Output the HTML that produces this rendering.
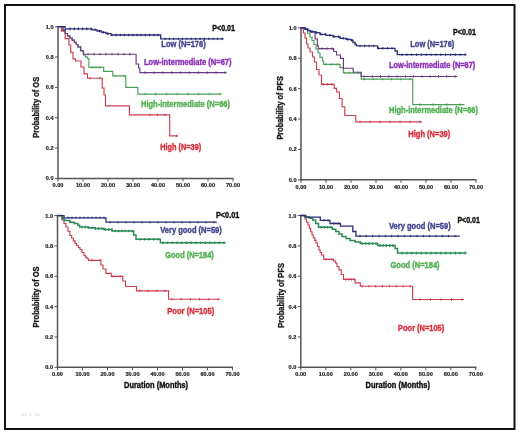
<!DOCTYPE html>
<html><head><meta charset="utf-8"><style>
html,body{margin:0;padding:0;background:#fff;}
body{width:520px;height:435px;overflow:hidden;position:relative;}
svg{position:absolute;left:0;top:0;filter:blur(0.3px);}
.tk{font-family:"Liberation Sans",sans-serif;font-size:5.6px;font-weight:bold;fill:#262626;stroke:#262626;stroke-width:0.2px;}
.lb{font-family:"Liberation Sans",sans-serif;font-weight:bold;}
</style></head><body>
<svg width="520" height="435" viewBox="0 0 520 435">
<rect x="0" y="0" width="520" height="435" fill="#ffffff"/>
<rect x="5" y="5" width="509.5" height="424" fill="none" stroke="#111111" stroke-width="2"/>
<line x1="58.0" y1="26.2" x2="58.0" y2="179.1" stroke="#555555" stroke-width="1.5"/>
<line x1="57.3" y1="178.4" x2="233.5" y2="178.4" stroke="#555555" stroke-width="1.5"/>
<line x1="58.0" y1="178.4" x2="58.0" y2="181.4" stroke="#555555" stroke-width="1"/>
<text x="58.0" y="187.2" class="tk" text-anchor="middle">0.00</text>
<line x1="83.0" y1="178.4" x2="83.0" y2="181.4" stroke="#555555" stroke-width="1"/>
<text x="83.0" y="187.2" class="tk" text-anchor="middle">10.00</text>
<line x1="108.0" y1="178.4" x2="108.0" y2="181.4" stroke="#555555" stroke-width="1"/>
<text x="108.0" y="187.2" class="tk" text-anchor="middle">20.00</text>
<line x1="133.0" y1="178.4" x2="133.0" y2="181.4" stroke="#555555" stroke-width="1"/>
<text x="133.0" y="187.2" class="tk" text-anchor="middle">30.00</text>
<line x1="158.0" y1="178.4" x2="158.0" y2="181.4" stroke="#555555" stroke-width="1"/>
<text x="158.0" y="187.2" class="tk" text-anchor="middle">40.00</text>
<line x1="183.0" y1="178.4" x2="183.0" y2="181.4" stroke="#555555" stroke-width="1"/>
<text x="183.0" y="187.2" class="tk" text-anchor="middle">50.00</text>
<line x1="208.0" y1="178.4" x2="208.0" y2="181.4" stroke="#555555" stroke-width="1"/>
<text x="208.0" y="187.2" class="tk" text-anchor="middle">60.00</text>
<line x1="233.0" y1="178.4" x2="233.0" y2="181.4" stroke="#555555" stroke-width="1"/>
<text x="233.0" y="187.2" class="tk" text-anchor="middle">70.00</text>
<line x1="55.0" y1="178.4" x2="58.0" y2="178.4" stroke="#555555" stroke-width="1"/>
<text x="53.5" y="180.4" class="tk" text-anchor="end">0.0</text>
<line x1="55.0" y1="148.1" x2="58.0" y2="148.1" stroke="#555555" stroke-width="1"/>
<text x="53.5" y="150.1" class="tk" text-anchor="end">0.2</text>
<line x1="55.0" y1="117.7" x2="58.0" y2="117.7" stroke="#555555" stroke-width="1"/>
<text x="53.5" y="119.7" class="tk" text-anchor="end">0.4</text>
<line x1="55.0" y1="87.4" x2="58.0" y2="87.4" stroke="#555555" stroke-width="1"/>
<text x="53.5" y="89.4" class="tk" text-anchor="end">0.6</text>
<line x1="55.0" y1="57.0" x2="58.0" y2="57.0" stroke="#555555" stroke-width="1"/>
<text x="53.5" y="59.0" class="tk" text-anchor="end">0.8</text>
<line x1="55.0" y1="26.7" x2="58.0" y2="26.7" stroke="#555555" stroke-width="1"/>
<text x="53.5" y="28.7" class="tk" text-anchor="end">1.0</text>
<path d="M58,26.6H61.5V31.2H65.2V38.6H68.9V45H70.7V52.3H73V58.8H75.5V61H81V67H84V73.8H87.5V78.2H102.2V88H104V95H105.5V105.9H129.4V114.9H169.7V135.9H177.4" fill="none" stroke="#cc3d50" stroke-width="1.15" stroke-linejoin="miter" stroke-linecap="square" opacity="1.0"/>
<path d="M58,26.6H60.6H62.9V30.1H65.2V33.5H67.5V35.8H69.8V38.0H72.1V40.1H74.4V42.2H76.2V44.5H78.0V46.8H80.5V51.0H83.6V55.0H85.4V56.8H87.3V58.5H88.9V67.3H103.7V71.3H112.8V75.9H125.8V87.4H137.8V94.1H221" fill="none" stroke="#4a9e58" stroke-width="1.15" stroke-linejoin="miter" stroke-linecap="square" opacity="1.0"/>
<path d="M58,26.6H60.6H62.9V30.1H65.2V33.5H67.5V35.8H69.8V38.0H72.1V40.1H74.4V42.2H76.2V44.5H78.0V46.8H80.8V50.5H83.2V54.2H136.1V64H138.6V68H139.8V72.6H226" fill="none" stroke="#6a3a82" stroke-width="1.15" stroke-linejoin="miter" stroke-linecap="square" opacity="1.0"/>
<path d="M58,26.6H65.2V28.9H92V29.8H97V31H101.5V32.3H106V33.6H111V35H160.7V38.9H223" fill="none" stroke="#2c2c78" stroke-width="1.3" stroke-linejoin="miter" stroke-linecap="square" opacity="1.0"/>
<path d="M70.0,27.6V30.2M74.2,27.6V30.2M78.4,27.6V30.2M82.6,27.6V30.2M86.8,27.6V30.2M91.0,27.6V30.2M95.1,28.5V31.1M99.3,29.7V32.3M103.5,31.0V33.6M107.7,32.3V34.9M111.9,33.7V36.3M116.1,33.7V36.3M120.3,33.7V36.3M124.5,33.7V36.3M128.7,33.7V36.3M132.9,33.7V36.3M137.0,33.7V36.3M141.2,33.7V36.3M145.4,33.7V36.3M149.6,33.7V36.3M153.8,33.7V36.3M158.0,33.7V36.3" stroke="#2c2c78" stroke-width="1.2" fill="none"/>
<path d="M165.0,37.7V40.1M169.4,37.7V40.1M173.8,37.7V40.1M178.2,37.7V40.1M182.5,37.7V40.1M186.9,37.7V40.1M191.3,37.7V40.1M195.7,37.7V40.1M200.1,37.7V40.1M204.5,37.7V40.1M208.8,37.7V40.1M213.2,37.7V40.1M217.6,37.7V40.1M222.0,37.7V40.1" stroke="#2c2c78" stroke-width="1.0" fill="none"/>
<path d="M88.0,53.0V55.4M94.0,53.0V55.4M100.0,53.0V55.4M106.0,53.0V55.4M112.0,53.0V55.4M118.0,53.0V55.4M124.0,53.0V55.4M130.0,53.0V55.4" stroke="#6a3a82" stroke-width="1.0" fill="none"/>
<path d="M145.0,71.4V73.8M153.9,71.4V73.8M162.8,71.4V73.8M171.7,71.4V73.8M180.6,71.4V73.8M189.4,71.4V73.8M198.3,71.4V73.8M207.2,71.4V73.8M216.1,71.4V73.8M225.0,71.4V73.8" stroke="#6a3a82" stroke-width="1.0" fill="none"/>
<path d="M92.0,66.1V68.5M96.0,66.1V68.5M100.0,66.1V68.5M115.0,74.7V77.1M124.0,74.7V77.1M145.0,92.9V95.3M155.7,92.9V95.3M166.4,92.9V95.3M177.1,92.9V95.3M187.9,92.9V95.3M198.6,92.9V95.3M209.3,92.9V95.3M220.0,92.9V95.3" stroke="#4a9e58" stroke-width="1.0" fill="none"/>
<path d="M90.0,77.0V79.4M100.0,77.0V79.4M150.0,113.7V116.1M157.5,113.7V116.1M165.0,113.7V116.1M176.5,134.7V137.1" stroke="#cc3d50" stroke-width="1.0" fill="none"/>
<text x="212.3" y="31.1" class="lb" fill="#111111" stroke="#111111" stroke-width="0.38" font-size="8.2" textLength="22.7" lengthAdjust="spacingAndGlyphs">P&lt;0.01</text>
<text x="161.3" y="46.7" class="lb" fill="#45458f" stroke="#45458f" stroke-width="0.38" font-size="8.2" textLength="44.4" lengthAdjust="spacingAndGlyphs">Low (N=176)</text>
<text x="144.0" y="64.7" class="lb" fill="#8a30b8" stroke="#8a30b8" stroke-width="0.38" font-size="8.2" textLength="87.5" lengthAdjust="spacingAndGlyphs">Low-intermediate (N=67)</text>
<text x="141.0" y="106.7" class="lb" fill="#52b052" stroke="#52b052" stroke-width="0.38" font-size="8.2" textLength="89.0" lengthAdjust="spacingAndGlyphs">High-intermediate (N=66)</text>
<text x="160.2" y="150.4" class="lb" fill="#d8303c" stroke="#d8303c" stroke-width="0.38" font-size="8.2" textLength="41.0" lengthAdjust="spacingAndGlyphs">High (N=39)</text>
<text transform="translate(39.2,137.8) rotate(-90)" x="0" y="0" class="lb" fill="#1a1a1a" stroke="#1a1a1a" stroke-width="0.35" font-size="9.5" textLength="61.0" lengthAdjust="spacingAndGlyphs">Probability of OS</text>
<line x1="301.0" y1="27.4" x2="301.0" y2="180.5" stroke="#555555" stroke-width="1.5"/>
<line x1="300.3" y1="179.8" x2="476.5" y2="179.8" stroke="#555555" stroke-width="1.5"/>
<line x1="301.0" y1="179.8" x2="301.0" y2="182.8" stroke="#555555" stroke-width="1"/>
<text x="301.0" y="188.6" class="tk" text-anchor="middle">0.00</text>
<line x1="326.0" y1="179.8" x2="326.0" y2="182.8" stroke="#555555" stroke-width="1"/>
<text x="326.0" y="188.6" class="tk" text-anchor="middle">10.00</text>
<line x1="351.0" y1="179.8" x2="351.0" y2="182.8" stroke="#555555" stroke-width="1"/>
<text x="351.0" y="188.6" class="tk" text-anchor="middle">20.00</text>
<line x1="376.0" y1="179.8" x2="376.0" y2="182.8" stroke="#555555" stroke-width="1"/>
<text x="376.0" y="188.6" class="tk" text-anchor="middle">30.00</text>
<line x1="401.0" y1="179.8" x2="401.0" y2="182.8" stroke="#555555" stroke-width="1"/>
<text x="401.0" y="188.6" class="tk" text-anchor="middle">40.00</text>
<line x1="426.0" y1="179.8" x2="426.0" y2="182.8" stroke="#555555" stroke-width="1"/>
<text x="426.0" y="188.6" class="tk" text-anchor="middle">50.00</text>
<line x1="451.0" y1="179.8" x2="451.0" y2="182.8" stroke="#555555" stroke-width="1"/>
<text x="451.0" y="188.6" class="tk" text-anchor="middle">60.00</text>
<line x1="476.0" y1="179.8" x2="476.0" y2="182.8" stroke="#555555" stroke-width="1"/>
<text x="476.0" y="188.6" class="tk" text-anchor="middle">70.00</text>
<line x1="298.0" y1="179.8" x2="301.0" y2="179.8" stroke="#555555" stroke-width="1"/>
<text x="296.5" y="181.8" class="tk" text-anchor="end">0.0</text>
<line x1="298.0" y1="149.4" x2="301.0" y2="149.4" stroke="#555555" stroke-width="1"/>
<text x="296.5" y="151.4" class="tk" text-anchor="end">0.2</text>
<line x1="298.0" y1="119.0" x2="301.0" y2="119.0" stroke="#555555" stroke-width="1"/>
<text x="296.5" y="121.0" class="tk" text-anchor="end">0.4</text>
<line x1="298.0" y1="88.7" x2="301.0" y2="88.7" stroke="#555555" stroke-width="1"/>
<text x="296.5" y="90.7" class="tk" text-anchor="end">0.6</text>
<line x1="298.0" y1="58.3" x2="301.0" y2="58.3" stroke="#555555" stroke-width="1"/>
<text x="296.5" y="60.3" class="tk" text-anchor="end">0.8</text>
<line x1="298.0" y1="27.9" x2="301.0" y2="27.9" stroke="#555555" stroke-width="1"/>
<text x="296.5" y="29.9" class="tk" text-anchor="end">1.0</text>
<path d="M301,27.9H303.4V33H305V38H306.5V44H308V48H310V52H312.5V57H314.5V62H316.5V69.5H319V75H321.5V84.3H334.2V88.3H336.7V92H339.4V98.5H342.1V106.7H344.8V115.5H355.8V121.9H421.4" fill="none" stroke="#cc3d50" stroke-width="1.15" stroke-linejoin="miter" stroke-linecap="square" opacity="1.0"/>
<path d="M301,27.9H305V29.5H307.5V33.2H310V37H312V40.5H314V44.5H316V49H318V53H320V57.3H322.5V61H323.7V64.4H340V67.6H343.4V72.8H361.2V79.1H412.7V104.6H463.8" fill="none" stroke="#4a9e58" stroke-width="1.15" stroke-linejoin="miter" stroke-linecap="square" opacity="1.0"/>
<path d="M301,27.9H305V29H308V30.5H310.5V32H315.1V39H317.4V45.8H318.5V48.6H333.6V51.5H336.5V55H340.5V58.4H343.4V68.2H353.2V72.2H361.2V76.5H456.7" fill="none" stroke="#6a3a82" stroke-width="1.15" stroke-linejoin="miter" stroke-linecap="square" opacity="1.0"/>
<path d="M301,27.9H305V29H307.5V30.5H310V31.6H315V32.6H320V34.3H326V35.3H333V36.7H340V38.3H346V39.4H351V40.4H353V42.5H355V44.5H356.5V45.9H377.6V48.3H395.1V51H397.3V54.7H465.8" fill="none" stroke="#2c2c78" stroke-width="1.3" stroke-linejoin="miter" stroke-linecap="square" opacity="1.0"/>
<path d="M312.0,30.3V32.9M316.4,31.3V33.9M320.9,33.0V35.6M325.3,33.0V35.6M329.8,34.0V36.6M334.2,35.4V38.0M338.7,35.4V38.0M343.1,37.0V39.6M347.6,38.1V40.7M352.0,39.1V41.7" stroke="#2c2c78" stroke-width="1.2" fill="none"/>
<path d="M360.0,44.7V47.1M364.6,44.7V47.1M369.1,44.7V47.1M373.7,44.7V47.1M378.3,47.1V49.5M382.9,47.1V49.5M387.4,47.1V49.5M392.0,47.1V49.5M402.0,53.5V55.9M406.8,53.5V55.9M411.7,53.5V55.9M416.5,53.5V55.9M421.4,53.5V55.9M426.2,53.5V55.9M431.1,53.5V55.9M435.9,53.5V55.9M440.8,53.5V55.9M445.6,53.5V55.9M450.5,53.5V55.9M455.3,53.5V55.9M460.2,53.5V55.9M465.0,53.5V55.9" stroke="#2c2c78" stroke-width="1.0" fill="none"/>
<path d="M322.0,47.4V49.8M327.0,47.4V49.8M332.0,47.4V49.8M364.0,75.3V77.7M372.3,75.3V77.7M380.5,75.3V77.7M388.8,75.3V77.7M397.1,75.3V77.7M405.4,75.3V77.7M413.6,75.3V77.7M421.9,75.3V77.7M430.2,75.3V77.7M438.5,75.3V77.7M446.7,75.3V77.7M455.0,75.3V77.7" stroke="#6a3a82" stroke-width="1.0" fill="none"/>
<path d="M326.0,63.2V65.6M331.5,63.2V65.6M337.0,63.2V65.6M345.0,71.6V74.0M349.3,71.6V74.0M353.7,71.6V74.0M358.0,71.6V74.0M364.0,77.9V80.3M373.2,77.9V80.3M382.4,77.9V80.3M391.6,77.9V80.3M400.8,77.9V80.3M410.0,77.9V80.3M420.0,103.4V105.8M433.3,103.4V105.8M446.7,103.4V105.8M460.0,103.4V105.8" stroke="#4a9e58" stroke-width="1.0" fill="none"/>
<path d="M323.0,83.1V85.5M327.5,83.1V85.5M332.0,83.1V85.5M360.0,120.7V123.1M370.0,120.7V123.1M380.0,120.7V123.1M390.0,120.7V123.1M400.0,120.7V123.1M410.0,120.7V123.1M420.0,120.7V123.1" stroke="#cc3d50" stroke-width="1.0" fill="none"/>
<text x="452.9" y="35.1" class="lb" fill="#111111" stroke="#111111" stroke-width="0.38" font-size="8.2" textLength="23.0" lengthAdjust="spacingAndGlyphs">P&lt;0.01</text>
<text x="410.3" y="46.7" class="lb" fill="#45458f" stroke="#45458f" stroke-width="0.38" font-size="8.2" textLength="44.0" lengthAdjust="spacingAndGlyphs">Low (N=176)</text>
<text x="389.0" y="68.3" class="lb" fill="#8a30b8" stroke="#8a30b8" stroke-width="0.38" font-size="8.2" textLength="86.3" lengthAdjust="spacingAndGlyphs">Low-intermediate (N=67)</text>
<text x="389.0" y="113.1" class="lb" fill="#52b052" stroke="#52b052" stroke-width="0.38" font-size="8.2" textLength="89.0" lengthAdjust="spacingAndGlyphs">High-intermediate (N=66)</text>
<text x="408.3" y="136.5" class="lb" fill="#d8303c" stroke="#d8303c" stroke-width="0.38" font-size="8.2" textLength="42.0" lengthAdjust="spacingAndGlyphs">High (N=39)</text>
<text transform="translate(283.2,139.6) rotate(-90)" x="0" y="0" class="lb" fill="#1a1a1a" stroke="#1a1a1a" stroke-width="0.35" font-size="9.5" textLength="63.5" lengthAdjust="spacingAndGlyphs">Probability of PFS</text>
<line x1="57.5" y1="215.1" x2="57.5" y2="368.0" stroke="#555555" stroke-width="1.5"/>
<line x1="56.8" y1="367.3" x2="233.0" y2="367.3" stroke="#555555" stroke-width="1.5"/>
<line x1="57.5" y1="367.3" x2="57.5" y2="370.3" stroke="#555555" stroke-width="1"/>
<text x="57.5" y="376.1" class="tk" text-anchor="middle">0.00</text>
<line x1="82.5" y1="367.3" x2="82.5" y2="370.3" stroke="#555555" stroke-width="1"/>
<text x="82.5" y="376.1" class="tk" text-anchor="middle">10.00</text>
<line x1="107.5" y1="367.3" x2="107.5" y2="370.3" stroke="#555555" stroke-width="1"/>
<text x="107.5" y="376.1" class="tk" text-anchor="middle">20.00</text>
<line x1="132.5" y1="367.3" x2="132.5" y2="370.3" stroke="#555555" stroke-width="1"/>
<text x="132.5" y="376.1" class="tk" text-anchor="middle">30.00</text>
<line x1="157.5" y1="367.3" x2="157.5" y2="370.3" stroke="#555555" stroke-width="1"/>
<text x="157.5" y="376.1" class="tk" text-anchor="middle">40.00</text>
<line x1="182.5" y1="367.3" x2="182.5" y2="370.3" stroke="#555555" stroke-width="1"/>
<text x="182.5" y="376.1" class="tk" text-anchor="middle">50.00</text>
<line x1="207.5" y1="367.3" x2="207.5" y2="370.3" stroke="#555555" stroke-width="1"/>
<text x="207.5" y="376.1" class="tk" text-anchor="middle">60.00</text>
<line x1="232.5" y1="367.3" x2="232.5" y2="370.3" stroke="#555555" stroke-width="1"/>
<text x="232.5" y="376.1" class="tk" text-anchor="middle">70.00</text>
<line x1="54.5" y1="367.3" x2="57.5" y2="367.3" stroke="#555555" stroke-width="1"/>
<text x="53.0" y="369.3" class="tk" text-anchor="end">0.0</text>
<line x1="54.5" y1="337.0" x2="57.5" y2="337.0" stroke="#555555" stroke-width="1"/>
<text x="53.0" y="339.0" class="tk" text-anchor="end">0.2</text>
<line x1="54.5" y1="306.6" x2="57.5" y2="306.6" stroke="#555555" stroke-width="1"/>
<text x="53.0" y="308.6" class="tk" text-anchor="end">0.4</text>
<line x1="54.5" y1="276.3" x2="57.5" y2="276.3" stroke="#555555" stroke-width="1"/>
<text x="53.0" y="278.3" class="tk" text-anchor="end">0.6</text>
<line x1="54.5" y1="245.9" x2="57.5" y2="245.9" stroke="#555555" stroke-width="1"/>
<text x="53.0" y="247.9" class="tk" text-anchor="end">0.8</text>
<line x1="54.5" y1="215.6" x2="57.5" y2="215.6" stroke="#555555" stroke-width="1"/>
<text x="53.0" y="217.6" class="tk" text-anchor="end">1.0</text>
<path d="M57.5,215.6H60H62.0V220.0H64.0V223.5H66.0V227.0H68.0V231.2H70.0V235.5H71.7V238.2H73.3V240.8H75.0V243.5H76.7V245.5H78.3V247.5H80.0V249.5H82.0V252.5H84.0V255.5H85.5V257.1H87.0V258.7H88.5V260.3H100.9V265H103V269H106V273.4H111.2V276.3H122.8V281H125.5V286.5H136.5V290.8H168.6V299.2H219.5" fill="none" stroke="#cc3d50" stroke-width="1.15" stroke-linejoin="miter" stroke-linecap="square" opacity="1.0"/>
<path d="M57.5,215.6H61.7V217.5H63V219.5H64.6V220.6H69.8V222.3H74.4V223.5H77.8V225.2H79.6V227H88V227.8H95V228.6H104V229.6H112V231H133.7V235H136V239.3H160.4V242.7H224.9" fill="none" stroke="#2a8a55" stroke-width="1.5" stroke-linejoin="miter" stroke-linecap="square" opacity="1.0"/>
<path d="M57.5,215.6H64V217.8H106V222.2H216.2" fill="none" stroke="#2c2c78" stroke-width="1.3" stroke-linejoin="miter" stroke-linecap="square" opacity="1.0"/>
<path d="M68.0,216.6V219.0M72.0,216.6V219.0M76.0,216.6V219.0M80.0,216.6V219.0M84.0,216.6V219.0M88.0,216.6V219.0M92.0,216.6V219.0M96.0,216.6V219.0M100.0,216.6V219.0M104.0,216.6V219.0M110.0,221.0V223.4M118.0,221.0V223.4M126.0,221.0V223.4M134.0,221.0V223.4M142.0,221.0V223.4M150.0,221.0V223.4M158.0,221.0V223.4M166.0,221.0V223.4M174.0,221.0V223.4M182.0,221.0V223.4M190.0,221.0V223.4M198.0,221.0V223.4M206.0,221.0V223.4M214.0,221.0V223.4" stroke="#2c2c78" stroke-width="1.0" fill="none"/>
<path d="M82.0,225.7V228.3M85.3,225.7V228.3M88.7,226.5V229.1M92.0,226.5V229.1M95.3,227.3V229.9M98.7,227.3V229.9M102.0,227.3V229.9M105.3,228.3V230.9M108.7,228.3V230.9M112.0,228.3V230.9M115.3,229.7V232.3M118.7,229.7V232.3M122.0,229.7V232.3M125.3,229.7V232.3M128.7,229.7V232.3M132.0,229.7V232.3M140.0,238.0V240.6M144.5,238.0V240.6M149.0,238.0V240.6M153.5,238.0V240.6M158.0,238.0V240.6M163.0,241.4V244.0M167.7,241.4V244.0M172.4,241.4V244.0M177.1,241.4V244.0M181.8,241.4V244.0M186.5,241.4V244.0M191.2,241.4V244.0M195.8,241.4V244.0M200.5,241.4V244.0M205.2,241.4V244.0M209.9,241.4V244.0M214.6,241.4V244.0M219.3,241.4V244.0M224.0,241.4V244.0" stroke="#2a8a55" stroke-width="1.2" fill="none"/>
<path d="M92.0,259.1V261.5M100.0,259.1V261.5M113.0,275.1V277.5M120.0,275.1V277.5M140.0,289.6V292.0M148.3,289.6V292.0M156.7,289.6V292.0M165.0,289.6V292.0M172.0,298.0V300.4M181.2,298.0V300.4M190.4,298.0V300.4M199.6,298.0V300.4M208.8,298.0V300.4M218.0,298.0V300.4" stroke="#cc3d50" stroke-width="1.0" fill="none"/>
<text x="216.0" y="218.0" class="lb" fill="#111111" stroke="#111111" stroke-width="0.38" font-size="8.2" textLength="23.3" lengthAdjust="spacingAndGlyphs">P&lt;0.01</text>
<text x="160.2" y="232.9" class="lb" fill="#45458f" stroke="#45458f" stroke-width="0.38" font-size="8.2" textLength="61.6" lengthAdjust="spacingAndGlyphs">Very good (N=59)</text>
<text x="165.3" y="258.3" class="lb" fill="#52b052" stroke="#52b052" stroke-width="0.38" font-size="8.2" textLength="48.5" lengthAdjust="spacingAndGlyphs">Good (N=184)</text>
<text x="167.3" y="313.7" class="lb" fill="#d8303c" stroke="#d8303c" stroke-width="0.38" font-size="8.2" textLength="46.9" lengthAdjust="spacingAndGlyphs">Poor (N=105)</text>
<text transform="translate(39.2,327.4) rotate(-90)" x="0" y="0" class="lb" fill="#1a1a1a" stroke="#1a1a1a" stroke-width="0.35" font-size="9.5" textLength="61.0" lengthAdjust="spacingAndGlyphs">Probability of OS</text>
<text x="124.0" y="387.7" class="lb" fill="#111111" stroke="#111111" stroke-width="0.38" font-size="8.2" textLength="64.1" lengthAdjust="spacingAndGlyphs">Duration (Months)</text>
<line x1="300.8" y1="215.0" x2="300.8" y2="368.0" stroke="#555555" stroke-width="1.5"/>
<line x1="300.1" y1="367.3" x2="476.3" y2="367.3" stroke="#555555" stroke-width="1.5"/>
<line x1="300.8" y1="367.3" x2="300.8" y2="370.3" stroke="#555555" stroke-width="1"/>
<text x="300.8" y="376.1" class="tk" text-anchor="middle">0.00</text>
<line x1="325.8" y1="367.3" x2="325.8" y2="370.3" stroke="#555555" stroke-width="1"/>
<text x="325.8" y="376.1" class="tk" text-anchor="middle">10.00</text>
<line x1="350.8" y1="367.3" x2="350.8" y2="370.3" stroke="#555555" stroke-width="1"/>
<text x="350.8" y="376.1" class="tk" text-anchor="middle">20.00</text>
<line x1="375.8" y1="367.3" x2="375.8" y2="370.3" stroke="#555555" stroke-width="1"/>
<text x="375.8" y="376.1" class="tk" text-anchor="middle">30.00</text>
<line x1="400.8" y1="367.3" x2="400.8" y2="370.3" stroke="#555555" stroke-width="1"/>
<text x="400.8" y="376.1" class="tk" text-anchor="middle">40.00</text>
<line x1="425.8" y1="367.3" x2="425.8" y2="370.3" stroke="#555555" stroke-width="1"/>
<text x="425.8" y="376.1" class="tk" text-anchor="middle">50.00</text>
<line x1="450.8" y1="367.3" x2="450.8" y2="370.3" stroke="#555555" stroke-width="1"/>
<text x="450.8" y="376.1" class="tk" text-anchor="middle">60.00</text>
<line x1="475.8" y1="367.3" x2="475.8" y2="370.3" stroke="#555555" stroke-width="1"/>
<text x="475.8" y="376.1" class="tk" text-anchor="middle">70.00</text>
<line x1="297.8" y1="367.3" x2="300.8" y2="367.3" stroke="#555555" stroke-width="1"/>
<text x="296.3" y="369.3" class="tk" text-anchor="end">0.0</text>
<line x1="297.8" y1="336.9" x2="300.8" y2="336.9" stroke="#555555" stroke-width="1"/>
<text x="296.3" y="338.9" class="tk" text-anchor="end">0.2</text>
<line x1="297.8" y1="306.6" x2="300.8" y2="306.6" stroke="#555555" stroke-width="1"/>
<text x="296.3" y="308.6" class="tk" text-anchor="end">0.4</text>
<line x1="297.8" y1="276.2" x2="300.8" y2="276.2" stroke="#555555" stroke-width="1"/>
<text x="296.3" y="278.2" class="tk" text-anchor="end">0.6</text>
<line x1="297.8" y1="245.9" x2="300.8" y2="245.9" stroke="#555555" stroke-width="1"/>
<text x="296.3" y="247.9" class="tk" text-anchor="end">0.8</text>
<line x1="297.8" y1="215.5" x2="300.8" y2="215.5" stroke="#555555" stroke-width="1"/>
<text x="296.3" y="217.5" class="tk" text-anchor="end">1.0</text>
<path d="M300.8,215.5H303H305.0V219.0H306.5V222.0H308.0V225.0H309.3V228.3H310.7V231.7H312.0V235.0H313.3V237.7H314.7V240.3H316.0V243.0H317.5V246.5H319.0V250.0H320.2V252.5H321.5V255.0H323.7V259.3H333.5V261H335.5V263H337V266.5H339V269.9H341.3V274.5H343.5V279.4H355.1V282.9H360.3V286.2H412.6V299.5H463.4" fill="none" stroke="#cc3d50" stroke-width="1.15" stroke-linejoin="miter" stroke-linecap="square" opacity="1.0"/>
<path d="M300.8,215.5H304.7V217H309.3V218.3H312.8V220H315.7V223.5H318.5V227.2H332.3V229.2H335.8V231.5H339V234H342V236.6H346V238.5H350V240.5H355.1V242H360.3V243.5H377.6V245.6H395.1V248.4H397.5V253.1H465.8" fill="none" stroke="#2a8a55" stroke-width="1.5" stroke-linejoin="miter" stroke-linecap="square" opacity="1.0"/>
<path d="M300.8,215.5H305.9V217.2H320.3V220.3H330V223.5H340.4V226.2H352.8V231.5H355.9V236.1H459.2" fill="none" stroke="#2c2c78" stroke-width="1.3" stroke-linejoin="miter" stroke-linecap="square" opacity="1.0"/>
<path d="M324.0,219.1V221.5M328.0,219.1V221.5M334.0,222.3V224.7M338.0,222.3V224.7M360.0,234.9V237.3M366.3,234.9V237.3M372.7,234.9V237.3M379.0,234.9V237.3M385.3,234.9V237.3M391.7,234.9V237.3M398.0,234.9V237.3M404.3,234.9V237.3M410.7,234.9V237.3M417.0,234.9V237.3M423.3,234.9V237.3M429.7,234.9V237.3M436.0,234.9V237.3M442.3,234.9V237.3M448.7,234.9V237.3M455.0,234.9V237.3" stroke="#2c2c78" stroke-width="1.0" fill="none"/>
<path d="M321.0,225.9V228.5M324.3,225.9V228.5M327.7,225.9V228.5M331.0,225.9V228.5M362.0,242.2V244.8M365.5,242.2V244.8M369.0,242.2V244.8M372.5,242.2V244.8M376.0,242.2V244.8M380.0,244.3V246.9M383.2,244.3V246.9M386.5,244.3V246.9M389.8,244.3V246.9M393.0,244.3V246.9M402.0,251.8V254.4M406.8,251.8V254.4M411.7,251.8V254.4M416.5,251.8V254.4M421.4,251.8V254.4M426.2,251.8V254.4M431.1,251.8V254.4M435.9,251.8V254.4M440.8,251.8V254.4M445.6,251.8V254.4M450.5,251.8V254.4M455.3,251.8V254.4M460.2,251.8V254.4M465.0,251.8V254.4" stroke="#2a8a55" stroke-width="1.2" fill="none"/>
<path d="M326.0,258.1V260.5M332.0,258.1V260.5M346.0,278.2V280.6M348.7,278.2V280.6M351.3,278.2V280.6M354.0,278.2V280.6M362.0,285.0V287.4M368.9,285.0V287.4M375.7,285.0V287.4M382.6,285.0V287.4M389.4,285.0V287.4M396.3,285.0V287.4M403.1,285.0V287.4M410.0,285.0V287.4M420.0,298.3V300.7M430.5,298.3V300.7M441.0,298.3V300.7M451.5,298.3V300.7M462.0,298.3V300.7" stroke="#cc3d50" stroke-width="1.0" fill="none"/>
<text x="457.4" y="223.1" class="lb" fill="#111111" stroke="#111111" stroke-width="0.38" font-size="8.2" textLength="22.5" lengthAdjust="spacingAndGlyphs">P&lt;0.01</text>
<text x="389.0" y="228.6" class="lb" fill="#45458f" stroke="#45458f" stroke-width="0.38" font-size="8.2" textLength="61.7" lengthAdjust="spacingAndGlyphs">Very good (N=59)</text>
<text x="390.5" y="267.8" class="lb" fill="#52b052" stroke="#52b052" stroke-width="0.38" font-size="8.2" textLength="49.1" lengthAdjust="spacingAndGlyphs">Good (N=184)</text>
<text x="398.1" y="330.6" class="lb" fill="#d8303c" stroke="#d8303c" stroke-width="0.38" font-size="8.2" textLength="46.1" lengthAdjust="spacingAndGlyphs">Poor (N=105)</text>
<text transform="translate(283.8,327.8) rotate(-90)" x="0" y="0" class="lb" fill="#1a1a1a" stroke="#1a1a1a" stroke-width="0.35" font-size="9.5" textLength="64.8" lengthAdjust="spacingAndGlyphs">Probability of PFS</text>
<text x="365.6" y="387.7" class="lb" fill="#111111" stroke="#111111" stroke-width="0.38" font-size="8.2" textLength="64.4" lengthAdjust="spacingAndGlyphs">Duration (Months)</text>
<text x="21" y="416" class="lb" font-size="6" fill="#e8e8e8" textLength="19" lengthAdjust="spacingAndGlyphs">ae 1 1a</text>
</svg>
</body></html>
